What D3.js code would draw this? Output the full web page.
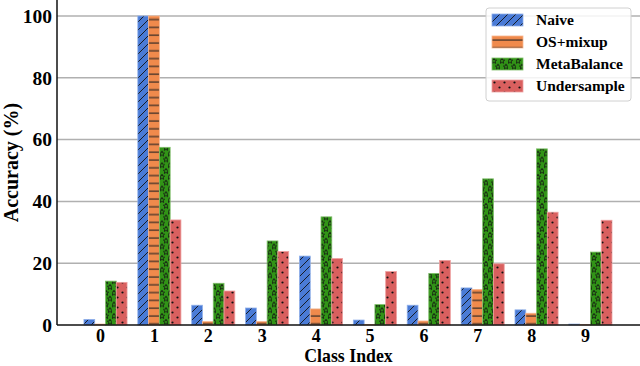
<html>
<head>
  <meta charset="utf-8" />
  <script src="https://d3js.org/d3.v7.min.js"></script>
</head>
<body style="margin: 0; background: white">
<script>

// data
let classes = [0, 1, 2, 3, 4, 5, 6, 7, 8, 9]
let naive = [1.8, 100, 6.4, 5.5, 22.3, 1.6, 6.4, 12.0, 4.9, 0.3]
let osMixup = [0.3, 100, 1.1, 1.1, 5.2, 0.2, 1.3, 11.5, 3.8, 0.1]
let metaBalance = [14.2, 57.5, 13.5, 27.2, 35.0, 6.6, 16.7, 47.3, 57.0, 23.6]
let undersample = [13.8, 34.0, 11.0, 23.8, 21.5, 17.3, 20.9, 19.8, 36.5, 33.9]
let seriesNames = ['Naive', 'OS+mixup', 'MetaBalance', 'Undersample']
let yTicks = [0, 20, 40, 60, 80, 100]

let width = 640, height = 366

var svg = d3.select("body").append("svg")
  .attr("width", width)
  .attr("height", height)
  .style("font-family", "'Liberation Serif', 'Times New Roman', serif")
  .style("font-weight", "bold")

let x = d3.scaleLinear().domain([-0.8, 10.02]).range([57, 640])
let y = d3.scaleLinear().domain([0, 105]).range([325, 0.55])
let barW = x(0.2) - x(0)

// hatch patterns
let defs = svg.append("defs")

let p = defs.append("pattern").attr("id", "hatch-naive")
  .attr("patternUnits", "userSpaceOnUse").attr("width", 8).attr("height", 8)
p.append("rect").attr("width", 8).attr("height", 8).attr("fill", "#4a7bd6")
p.append("path").attr("d", "M-2,2 L2,-2 M0,8 L8,0 M6,10 L10,6")
  .attr("stroke", "#111").attr("stroke-width", 0.9)

p = defs.append("pattern").attr("id", "hatch-os")
  .attr("patternUnits", "userSpaceOnUse").attr("width", 8).attr("height", 7.8)
p.append("rect").attr("width", 8).attr("height", 7.8).attr("fill", "#f08a4c")
p.append("line").attr("x1", 0).attr("x2", 8).attr("y1", 4).attr("y2", 4)
  .attr("stroke", "#222").attr("stroke-width", 1.1)

function starPath(cx, cy, r) {
  let pts = []
  for (let k = 0; k < 10; k++) {
    let a = -Math.PI / 2 + k * Math.PI / 5
    let rr = k % 2 == 0 ? r : r * 0.45
    pts.push([cx + rr * Math.cos(a), cy + rr * Math.sin(a)])
  }
  return "M" + pts.map(d => d.join(",")).join("L") + "Z"
}

p = defs.append("pattern").attr("id", "hatch-meta")
  .attr("patternUnits", "userSpaceOnUse").attr("width", 8).attr("height", 11.6)
p.append("rect").attr("width", 8).attr("height", 11.6).attr("fill", "#319416")
p.append("path").attr("d", starPath(2, 3, 2.8) + starPath(6, 8.8, 2.8))
  .attr("fill", "none").attr("stroke", "#111").attr("stroke-width", 0.8)

p = defs.append("pattern").attr("id", "hatch-under")
  .attr("patternUnits", "userSpaceOnUse").attr("width", 10).attr("height", 10)
p.append("rect").attr("width", 10).attr("height", 10).attr("fill", "#d9605f")
p.selectAll("circle").data([[2.5, 2.5], [7.5, 7.5]]).enter().append("circle")
  .attr("cx", d => d[0]).attr("cy", d => d[1]).attr("r", 1.1).attr("fill", "#111")

let fills = ['url(#hatch-naive)', 'url(#hatch-os)', 'url(#hatch-meta)', 'url(#hatch-under)']
let edges = ['#8fb0ea', '#f7b68f', '#7fbf6a', '#eea0a0']
let offsets = [-0.2, 0, 0.2, 0.4]

// grid
svg.append("g").selectAll("line").data(yTicks.slice(1)).enter().append("line")
  .attr("x1", 57).attr("x2", 640)
  .attr("y1", d => y(d)).attr("y2", d => y(d))
  .attr("stroke", "#b0b0b0").attr("stroke-width", 1.5)

// bars
let allSeries = [naive, osMixup, metaBalance, undersample]
allSeries.forEach((vals, s) => {
  svg.append("g").selectAll("rect").data(vals).enter().append("rect")
    .attr("x", (d, i) => x(classes[i] + offsets[s]) - barW / 2)
    .attr("y", d => y(d))
    .attr("width", barW)
    .attr("height", d => y(0) - y(d))
    .attr("fill", fills[s])
    .attr("stroke", edges[s])
    .attr("stroke-width", 0.8)
})

// axes
let xAxis = svg.append("g").attr("transform", "translate(0," + y(0) + ")")
  .call(d3.axisBottom(x).tickValues(classes).tickFormat(d3.format("d")).tickSize(0).tickPadding(4.5))
let yAxis = svg.append("g").attr("transform", "translate(57,0)")
  .call(d3.axisLeft(y).tickValues(yTicks).tickSize(0).tickPadding(5))

;[xAxis, yAxis].forEach(a => {
  a.select(".domain").attr("stroke", "#111").attr("stroke-width", 1.5)
  a.selectAll("text").attr("font-size", 19.5).attr("font-family", "'Liberation Serif', serif")
    .attr("font-weight", "bold").attr("fill", "#000")
})
xAxis.selectAll("text").attr("font-size", 18)
xAxis.select(".domain").attr("d", "M57,0H640")
yAxis.select(".domain").attr("d", "M0,0V" + y(0))

svg.append("text").attr("x", 348.5).attr("y", 362)
  .attr("text-anchor", "middle").attr("font-size", 17.8).text("Class Index")
svg.append("text").attr("transform", "translate(18,162.5) rotate(-90)")
  .attr("text-anchor", "middle").attr("font-size", 20).text("Accuracy (%)")

// legend
let legend = svg.append("g")
legend.append("rect").attr("x", 486).attr("y", 8).attr("width", 145).attr("height", 93)
  .attr("rx", 3).attr("fill", "white").attr("fill-opacity", 0.85)
  .attr("stroke", "#d0d0d0").attr("stroke-width", 1)
let rows = legend.selectAll(".row").data(seriesNames).enter().append("g")
  .attr("class", "row")
  .attr("transform", (d, i) => "translate(492," + (14 + i * 22) + ")")
rows.append("rect").attr("width", 31).attr("height", 12)
  .attr("fill", (d, i) => fills[i]).attr("stroke", (d, i) => edges[i]).attr("stroke-width", 0.8)
rows.append("text").attr("x", 44).attr("y", 11)
  .attr("font-size", 15.5).text(d => d)

</script>
</body>
</html>
